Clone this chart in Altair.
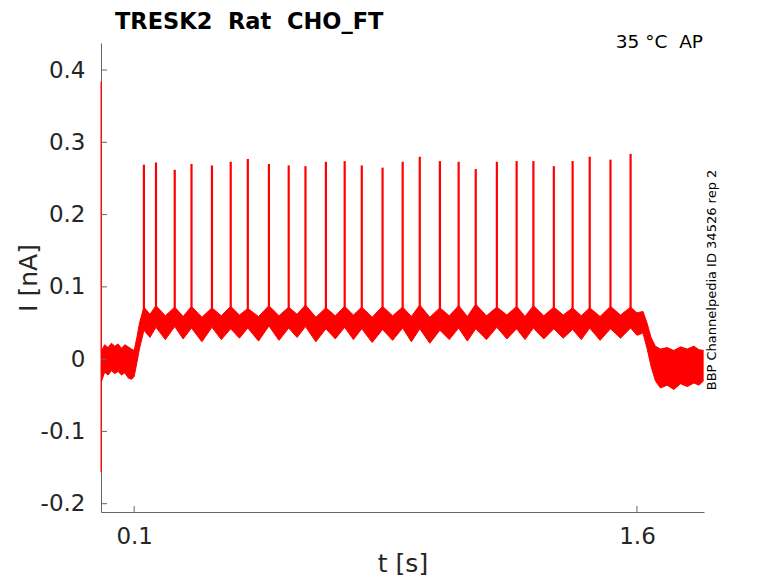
import altair as alt
import pandas as pd

# ---- data ----
env_t = [0.003, 0.012, 0.022, 0.032, 0.042, 0.052, 0.062, 0.072, 0.082, 0.092, 0.100,
         0.108, 0.116, 0.123,
         0.129, 0.147, 0.165, 0.193, 0.221, 0.246, 0.271, 0.302, 0.332, 0.360,
         0.388, 0.414, 0.439, 0.471, 0.502, 0.532, 0.561, 0.586, 0.611, 0.642,
         0.672, 0.700, 0.728, 0.754, 0.779, 0.810, 0.841, 0.871, 0.901, 0.927,
         0.952, 0.982, 1.012, 1.040, 1.068, 1.094, 1.119, 1.151, 1.182, 1.212,
         1.241, 1.266, 1.291, 1.322, 1.352, 1.380, 1.408, 1.434, 1.459, 1.490,
         1.521, 1.551, 1.581,
         1.600, 1.618, 1.630, 1.642, 1.655, 1.670, 1.690, 1.710, 1.730, 1.750,
         1.770, 1.785, 1.799]
env_hi = [0.012, 0.020, 0.016, 0.022, 0.018, 0.021, 0.015, 0.020, 0.017, 0.014, 0.012,
          0.030, 0.050, 0.062,
          0.072, 0.062, 0.074, 0.060, 0.072, 0.059, 0.073, 0.058, 0.071, 0.060,
          0.073, 0.061, 0.070, 0.059, 0.074, 0.060, 0.072, 0.062, 0.075, 0.058,
          0.071, 0.060, 0.073, 0.061, 0.072, 0.058, 0.073, 0.060, 0.072, 0.059,
          0.075, 0.058, 0.071, 0.060, 0.074, 0.059, 0.076, 0.060, 0.072, 0.061,
          0.073, 0.059, 0.074, 0.060, 0.072, 0.061, 0.071, 0.060, 0.071, 0.059,
          0.073, 0.061, 0.072,
          0.064, 0.066, 0.050, 0.030, 0.018, 0.014, 0.016, 0.012, 0.017, 0.014,
          0.018, 0.013, 0.012]
env_lo = [-0.030, -0.018, -0.022, -0.016, -0.020, -0.017, -0.022, -0.019, -0.026, -0.028, -0.024,
          -0.005, 0.015, 0.028,
          0.040, 0.030, 0.044, 0.027, 0.045, 0.028, 0.043, 0.024, 0.044, 0.027,
          0.042, 0.029, 0.043, 0.025, 0.046, 0.026, 0.043, 0.030, 0.045, 0.024,
          0.042, 0.028, 0.044, 0.027, 0.042, 0.023, 0.041, 0.026, 0.043, 0.024,
          0.042, 0.022, 0.040, 0.027, 0.043, 0.025, 0.042, 0.027, 0.044, 0.028,
          0.042, 0.027, 0.043, 0.028, 0.042, 0.029, 0.041, 0.027, 0.043, 0.026,
          0.042, 0.029, 0.043,
          0.033, 0.036, 0.015, -0.010, -0.030, -0.040, -0.036, -0.042, -0.034, -0.038,
          -0.033, -0.036, -0.030]

spike_t = [0.129, 0.165, 0.221, 0.271, 0.332, 0.388, 0.439, 0.502, 0.561, 0.611,
           0.672, 0.728, 0.779, 0.841, 0.901, 0.952, 1.012, 1.068, 1.119, 1.182,
           1.241, 1.291, 1.352, 1.408, 1.459, 1.521, 1.581]
spike_peak = [0.269, 0.272, 0.262, 0.270, 0.268, 0.273, 0.277, 0.270, 0.268, 0.267,
              0.273, 0.274, 0.268, 0.265, 0.273, 0.280, 0.274, 0.273, 0.263, 0.273,
              0.274, 0.274, 0.267, 0.274, 0.280, 0.276, 0.284]
spike_base = [0.055] * len(spike_t)

transient_t = [0.0015]
transient_lo = [-0.156]
transient_hi = [0.384]

x_ticks = [0.1, 1.6]
y_ticks = [-0.2, -0.1, 0.0, 0.1, 0.2, 0.3, 0.4]

title_text = "TRESK2\u00a0\u00a0Rat\u00a0\u00a0CHO_FT"
temp_text = "35\u00a0°C\u00a0\u00a0AP"
side_text = "BBP Channelpedia ID 34526 rep 2"

FONT = "DejaVu Sans"
AX = "#666666"
LBL = "#262626"
RED = "#ff0000"
W, H = 603, 469

xs = alt.Scale(domain=[0.001, 1.8], nice=False, zero=False)
ys = alt.Scale(domain=[-0.2115, 0.4374], nice=False, zero=False)

env = pd.DataFrame({"t": env_t, "lo": env_lo, "hi": env_hi})
spk = pd.DataFrame({"t": spike_t, "b": spike_base, "p": spike_peak})
trn = pd.DataFrame({"t": transient_t, "lo": transient_lo, "hi": transient_hi})
ytk = pd.DataFrame({"v": y_ticks})
xtk = pd.DataFrame({"v": x_ticks})

x_axis = alt.Axis(values=x_ticks, format=".1f", grid=False, ticks=False,
                  domainColor=AX, domainWidth=1,
                  labelFont=FONT, labelFontSize=23, labelColor=LBL, labelPadding=13,
                  title="t [s]", titleFont=FONT, titleFontSize=25, titleFontWeight="normal",
                  titleColor=LBL, titleBaseline="alphabetic", titleY=59)
y_axis = alt.Axis(values=y_ticks, grid=False, ticks=False,
                  domainColor=AX, domainWidth=1,
                  labelExpr="datum.value == 0 ? '0\u00a0\u00a0' : (datum.value < 0 ? '-' + format(-datum.value, '.1f') : format(datum.value, '.1f'))",
                  labelFont=FONT, labelFontSize=23, labelColor=LBL, labelPadding=16,
                  title="I [nA]", titleFont=FONT, titleFontSize=25, titleFontWeight="normal",
                  titleColor=LBL, titleBaseline="alphabetic", titleX=-65)

X = lambda f: alt.X(f, scale=xs, axis=x_axis)
Y = lambda f: alt.Y(f, scale=ys, axis=y_axis)

band = alt.Chart(env).mark_area(color=RED, opacity=1, strokeWidth=0).encode(
    x=X("t:Q"), y=Y("lo:Q"), y2="hi:Q",
)
band_edge_hi = alt.Chart(env).mark_line(color=RED, strokeWidth=1).encode(
    x=X("t:Q"), y=Y("hi:Q"),
)
band_edge_lo = alt.Chart(env).mark_line(color=RED, strokeWidth=1).encode(
    x=X("t:Q"), y=Y("lo:Q"),
)
spikes = alt.Chart(spk).mark_rule(color=RED, strokeWidth=2.2).encode(
    x=X("t:Q"), y=Y("b:Q"), y2="p:Q",
)
transient = alt.Chart(trn).mark_rule(color=RED, strokeWidth=1.3).encode(
    x=X("t:Q"), y=Y("lo:Q"), y2="hi:Q",
)
yticks = alt.Chart(ytk).mark_rule(color=AX, strokeWidth=1).encode(
    y=Y("v:Q"), x=alt.value(0), x2=alt.value(6),
)
xticks = alt.Chart(xtk).mark_rule(color=AX, strokeWidth=1).encode(
    x=X("v:Q"), y=alt.value(H - 6), y2=alt.value(H),
)
title = alt.Chart(pd.DataFrame({"s": [title_text]})).mark_text(
    align="left", baseline="alphabetic", font=FONT, fontSize=22.5, fontWeight="bold", color="black"
).encode(x=alt.value(14), y=alt.value(-14), text="s:N")
temp = alt.Chart(pd.DataFrame({"s": [temp_text]})).mark_text(
    align="right", baseline="alphabetic", font=FONT, fontSize=18.5, color="black"
).encode(x=alt.value(602), y=alt.value(5), text="s:N")
side = alt.Chart(pd.DataFrame({"s": [side_text]})).mark_text(
    align="center", baseline="middle", angle=270, font=FONT, fontSize=13, color="black"
).encode(x=alt.value(611), y=alt.value(237), text="s:N")

chart = alt.layer(band, band_edge_hi, band_edge_lo, spikes, transient, yticks, xticks,
                  title, temp, side).properties(
    width=W, height=H,
    padding={"left": 93, "top": 35, "right": 66, "bottom": 70},
    autosize=alt.AutoSizeParams(type="none"),
).configure_view(stroke=None)

chart.save("out.html", embed_options={"renderer": "svg", "actions": False})
